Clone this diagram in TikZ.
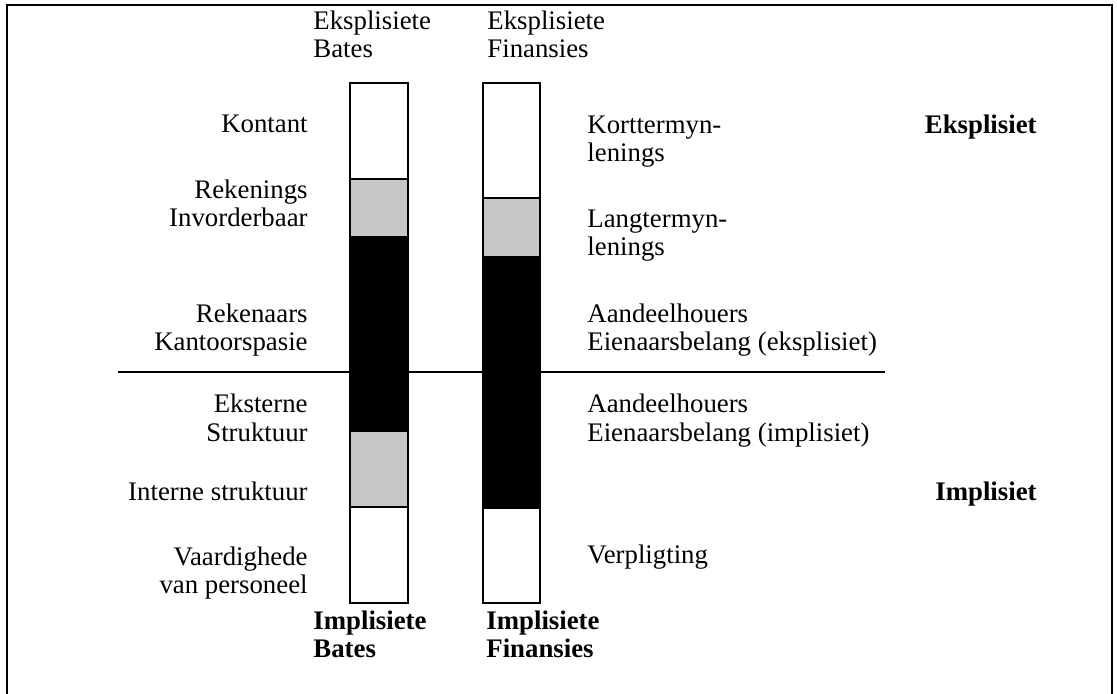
\documentclass[tikz,border=0pt]{standalone}
\usepackage{fontspec}
\setmainfont{Liberation Serif}
\begin{document}
\begin{tikzpicture}[x=0.5pt,y=-0.5pt]
  \tikzstyle{teks}=[inner sep=0pt,font=\fontsize{13.4}{14}\selectfont]
  \tikzstyle{bates teks}=[teks,anchor=base east,align=right]
  \tikzstyle{finansies teks}=[teks,anchor=base west,align=left]
  \tikzstyle{vet teks}=[teks,font=\fontsize{13.4}{14}\selectfont\bfseries]
  \useasboundingbox (0,0) rectangle (1117,694);

  % Raam
  \draw[line width=1pt] (7,694) -- (7,5) -- (1112,5) -- (1112,694);

  % Skeidslyn eksplisiet / implisiet
  \draw[line width=1pt] (118,372) -- (885,372);

  % Staaf bates
  \foreach \bo/\onder/\kleur in {83/179/white,179/237/black!22,237/431/black,431/507/black!22,507/603/white}
    \draw[line width=1pt,fill=\kleur] (350,\bo) rectangle (408,\onder);

  % Staaf finansies
  \foreach \bo/\onder/\kleur in {83/198/white,198/257/black!22,257/508/black,508/603/white}
    \draw[line width=1pt,fill=\kleur] (483,\bo) rectangle (540,\onder);

  % Opskrifte bo en onder (anker op die basislyn van die laaste reel)
  \node[teks,anchor=base west,align=left] (eksbates) at (313,58) {Eksplisiete\\Bates};
  \node[teks,anchor=base west,align=left] (eksfin) at (487,58) {Eksplisiete\\Finansies};
  \node[vet teks,anchor=base west,align=left] (impbates) at (313,657) {Implisiete\\Bates};
  \node[vet teks,anchor=base west,align=left] (impfin) at (486,657) {Implisiete\\Finansies};

  % Bates
  \node[bates teks] (kontant) at (308,133) {Kontant};
  \node[bates teks] (rekenings) at (308,227) {Rekenings\\Invorderbaar};
  \node[bates teks] (rekenaars) at (308,351) {Rekenaars\\Kantoorspasie};
  \node[bates teks] (eksterne) at (308,441) {Eksterne\\Struktuur};
  \node[bates teks] (interne) at (308,500) {Interne struktuur};
  \node[bates teks] (vaardighede) at (308,593) {Vaardighede\\van personeel};

  % Finansies
  \node[finansies teks] (kort) at (587,162) {Korttermyn-\\lenings};
  \node[finansies teks] (lang) at (587,256) {Langtermyn-\\lenings};
  \node[finansies teks] (eienaar eks) at (587,351) {Aandeelhouers\\Eienaarsbelang (eksplisiet)};
  \node[finansies teks] (eienaar imp) at (587,441) {Aandeelhouers\\Eienaarsbelang (implisiet)};
  \node[finansies teks] (verpligting) at (587,563) {Verpligting};

  % Kategorie
  \node[vet teks,anchor=base east] (eksplisiet) at (1037,134) {Eksplisiet};
  \node[vet teks,anchor=base east] (implisiet) at (1037,500) {Implisiet};
\end{tikzpicture}
\end{document}
